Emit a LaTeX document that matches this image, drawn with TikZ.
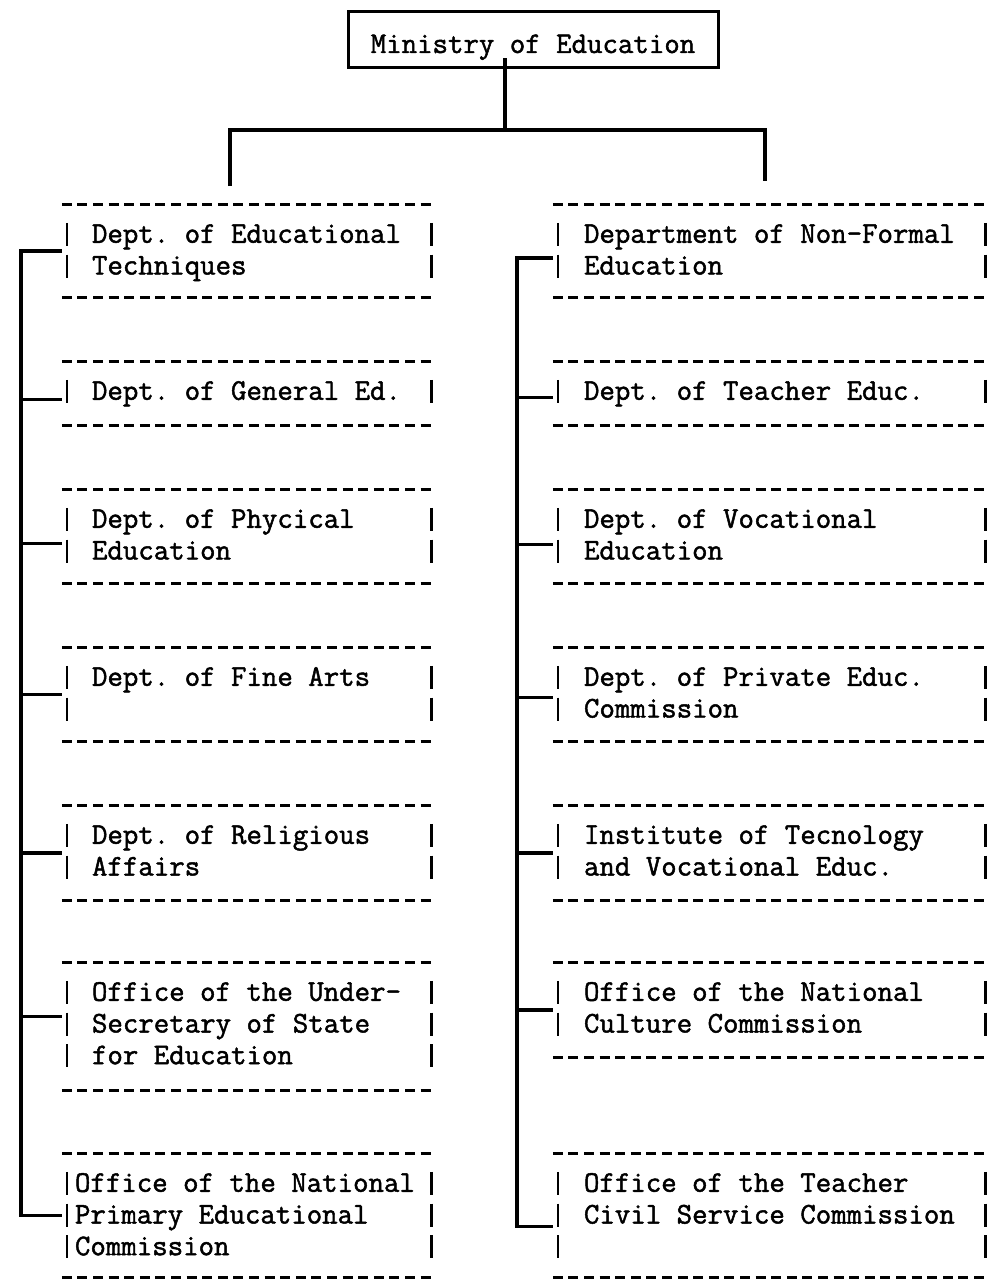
\documentclass[tikz,border=0pt]{standalone}
\usepackage{fontspec}
\setmonofont{Latin Modern Mono}[FakeBold=1.6]
\usepackage{tikz}
\usetikzlibrary{positioning}
\newcommand{\tyf}{\ttfamily\fontsize{30}{31.7}\selectfont}

\begin{document}
\begin{tikzpicture}[x=1pt, y=-1pt,
  boss/.style={draw, line width=3pt, minimum width=370pt, minimum height=56pt,
               inner sep=0pt, text height=26pt, text depth=0pt, font=\tyf},
  lbox/.style={minimum width=374pt, minimum height=#1, inner sep=0pt},
  rbox/.style={minimum width=437pt, minimum height=#1, inner sep=0pt},
  txt/.style={anchor=base west, align=left, inner sep=0pt, font=\tyf},
  dashes/.style={line width=3pt, dash pattern=on 10pt off 5.6pt},
  bars/.style={line width=2.6pt, dash pattern=on 23pt off 8.7pt},
  link/.style={line width=3.2pt}]
\useasboundingbox (0,0) rectangle (986,1279);

\node[boss] (M) at (533,40) {Ministry of Education};

% left column
\node[lbox=92pt]  (L1) at (249,251)    {};
\node[lbox=63pt]  (L2) at (249,393.5)  {};
\node[lbox=93pt]  (L3) at (249,536.5)  {};
\node[lbox=93pt]  (L4) at (249,694.5)  {};
\node[lbox=94pt]  (L5) at (249,853)    {};
\node[lbox=127pt] (L6) at (249,1026.5) {};
\node[lbox=123pt] (L7) at (249,1215.5) {};

% right column
\node[rbox=92pt]  (R1) at (771.5,251)    {};
\node[rbox=63pt]  (R2) at (771.5,393.5)  {};
\node[rbox=93pt]  (R3) at (771.5,536.5)  {};
\node[rbox=93pt]  (R4) at (771.5,694.5)  {};
\node[rbox=94pt]  (R5) at (771.5,853)    {};
\node[rbox=94pt]  (R6) at (771.5,1010)   {};
\node[rbox=123pt] (R7) at (771.5,1215.5) {};

\foreach \b in {L1,L2,L3,L4,L5,L6,L7,R1,R2,R3,R4,R5,R6,R7}{
  \draw[dashes] (\b.north west) -- (\b.north east) (\b.south west) -- (\b.south east);
  \draw[bars] ([shift={(5,18)}]\b.north west) -- ([shift={(5,-18)}]\b.south west)
              ([shift={(-5,18)}]\b.north east) -- ([shift={(-5,-18)}]\b.south east);
}

% texts (base = last line)
\node[txt] (L1t) at ([shift={(30,69.7)}]L1.north west) {Dept. of Educational\\Techniques};
\node[txt] (L2t) at ([shift={(30,38)}]L2.north west) {Dept. of General Ed.};
\node[txt] (L3t) at ([shift={(30,69.7)}]L3.north west) {Dept. of Phycical\\Education};
\node[txt] (L4t) at ([shift={(30,38)}]L4.north west) {Dept. of Fine Arts};
\node[txt] (L5t) at ([shift={(30,69.7)}]L5.north west) {Dept. of Religious\\Affairs};
\node[txt] (L6t) at ([shift={(30,101.4)}]L6.north west) {Office of the Under-\\Secretary of State\\for Education};
\node[txt] (L7t) at ([shift={(13,101.4)}]L7.north west) {Office of the National\\Primary Educational\\Commission};

\node[txt] (R1t) at ([shift={(31,69.7)}]R1.north west) {Department of Non-Formal\\Education};
\node[txt] (R2t) at ([shift={(31,38)}]R2.north west) {Dept. of Teacher Educ.};
\node[txt] (R3t) at ([shift={(31,69.7)}]R3.north west) {Dept. of Vocational\\Education};
\node[txt] (R4t) at ([shift={(31,69.7)}]R4.north west) {Dept. of Private Educ.\\Commission};
\node[txt] (R5t) at ([shift={(31,69.7)}]R5.north west) {Institute of Tecnology\\and Vocational Educ.};
\node[txt] (R6t) at ([shift={(31,69.7)}]R6.north west) {Office of the National\\Culture Commission};
\node[txt] (R7t) at ([shift={(31,69.7)}]R7.north west) {Office of the Teacher\\Civil Service Commission};

% links
\coordinate (hub) at (505,130);
\coordinate (ldrop) at (230,186);
\coordinate (rdrop) at (765,181);
\coordinate (ltrunk) at (21,0);
\coordinate (rtrunk) at (517,0);
\draw[link] ([xshift=-28pt,yshift=11pt]M.south) -- (hub);
\draw[link] (ldrop) |- (hub) -| (rdrop);

\draw[link] (L1.west) -| (ltrunk |- L7.west) -- (L7.west);
\foreach \i/\dy in {2/6,3/7,4/0,5/0,6/-10}
  \draw[link] ([yshift=-\dy pt]L\i.west) -- ([yshift=-\dy pt]L\i.west -| ltrunk);

\draw[link] ([yshift=-7pt]R1.west) -| (rtrunk |- R7.west) -- ++(0,11) -- ([yshift=-11pt]R7.west);
\foreach \i/\dy in {2/4,3/8,4/3,5/0,6/0}
  \draw[link] ([yshift=-\dy pt]R\i.west) -- ([yshift=-\dy pt]R\i.west -| rtrunk);
\end{tikzpicture}
\end{document}
